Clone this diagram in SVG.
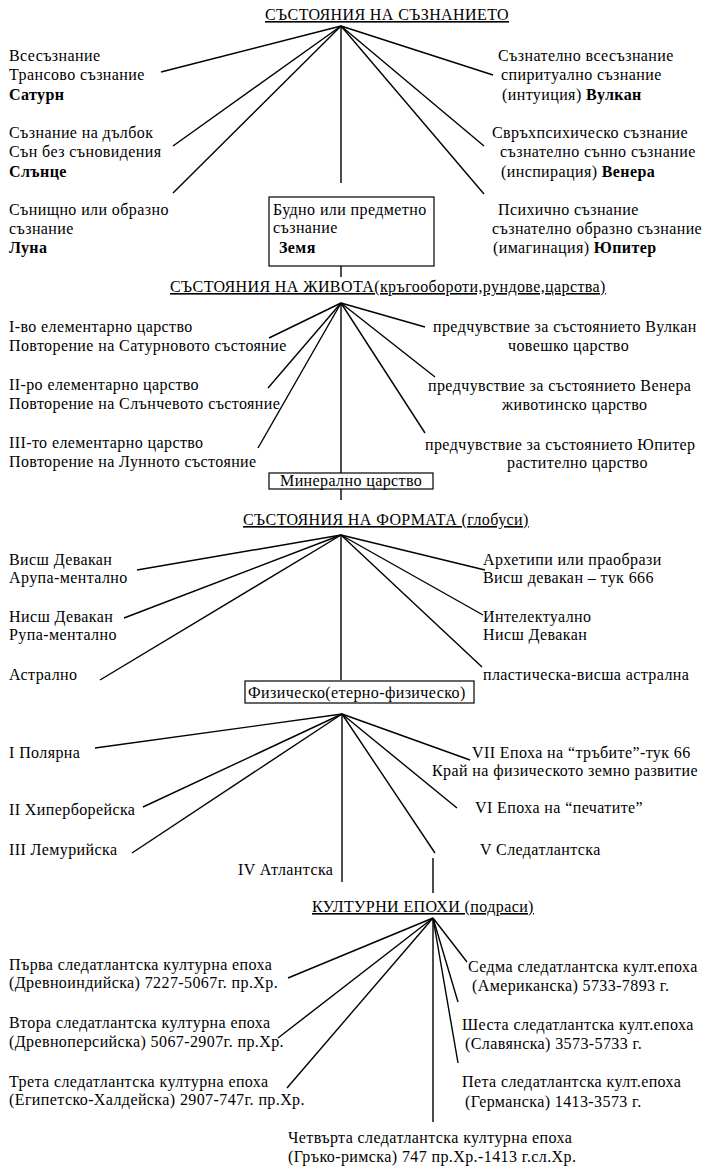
<svg xmlns="http://www.w3.org/2000/svg" width="705" height="1168" viewBox="0 0 705 1168">
<style>
text{font-family:"Liberation Serif","Times New Roman",serif;font-size:16px;letter-spacing:0.4px;fill:#000}
.t{text-decoration:underline}
.b{font-weight:bold}
.c line{stroke:#000;stroke-width:1.4}
.box{fill:#fff;stroke:#000;stroke-width:1.2}
</style>
<rect width="705" height="1168" fill="#fff"/>
<g class="c" id="connectors">
<line x1="341" y1="26" x2="161" y2="72"/>
<line x1="341" y1="26" x2="173" y2="146"/>
<line x1="341" y1="26" x2="173" y2="193"/>
<line x1="341" y1="26" x2="341" y2="183"/>
<line x1="341" y1="26" x2="493" y2="75"/>
<line x1="341" y1="26" x2="484" y2="146"/>
<line x1="341" y1="26" x2="484" y2="194"/>
<line x1="341" y1="266" x2="341" y2="277"/>
<line x1="341" y1="303" x2="269" y2="338"/>
<line x1="341" y1="303" x2="268" y2="388"/>
<line x1="341" y1="303" x2="258" y2="448"/>
<line x1="341" y1="303" x2="341" y2="473"/>
<line x1="341" y1="303" x2="425" y2="327"/>
<line x1="341" y1="303" x2="435" y2="377"/>
<line x1="341" y1="303" x2="425" y2="433"/>
<line x1="341" y1="489" x2="341" y2="500"/>
<line x1="341" y1="535" x2="137" y2="570"/>
<line x1="341" y1="535" x2="124" y2="618"/>
<line x1="341" y1="535" x2="100" y2="680"/>
<line x1="341" y1="535" x2="341" y2="680"/>
<line x1="341" y1="535" x2="485" y2="570"/>
<line x1="341" y1="535" x2="483" y2="615"/>
<line x1="341" y1="535" x2="482" y2="667"/>
<line x1="342" y1="714" x2="95" y2="748"/>
<line x1="342" y1="714" x2="143" y2="807"/>
<line x1="342" y1="714" x2="132" y2="853"/>
<line x1="342" y1="714" x2="342" y2="882"/>
<line x1="342" y1="714" x2="470" y2="760"/>
<line x1="342" y1="714" x2="457" y2="808"/>
<line x1="342" y1="714" x2="435" y2="853"/>
<line x1="433" y1="858" x2="433" y2="893"/>
<line x1="433" y1="918" x2="288" y2="978"/>
<line x1="433" y1="918" x2="278" y2="1038"/>
<line x1="433" y1="918" x2="287" y2="1088"/>
<line x1="433" y1="918" x2="433" y2="1122"/>
<line x1="433" y1="918" x2="467" y2="962"/>
<line x1="433" y1="918" x2="458" y2="1002"/>
<line x1="433" y1="918" x2="458" y2="1063"/>
</g>
<g id="title1"><text x="265" y="20" class="t">СЪСТОЯНИЯ НА СЪЗНАНИЕТО</text></g>
<g id="saturn"><text x="9" y="61">Всесъзнание</text><text x="9" y="80">Трансово съзнание</text><text x="9" y="100" class="b">Сатурн</text></g>
<g id="sun"><text x="9" y="138">Съзнание на дълбок</text><text x="9" y="157">Сън без сънови­дения</text><text x="9" y="177" class="b">Слънце</text></g>
<g id="moon"><text x="9" y="215">Сънищно или образно</text><text x="9" y="234">съзнание</text><text x="9" y="253" class="b">Луна</text></g>
<g id="earth"><rect class="box" x="269" y="197" width="165" height="69"/><text x="273" y="215">Будно или предметно</text><text x="273" y="233">съзнание</text><text x="279" y="253" class="b">Земя</text></g>
<g id="vulcan"><text x="498" y="61">Съзнателно всесъзнание</text><text x="501" y="80">спиритуално съзнание</text><text x="502" y="100">(интуиция) <tspan class="b">Вулкан</tspan></text></g>
<g id="venus"><text x="492" y="138">Свръхпсихическо съзнание</text><text x="500" y="157">съзнателно сънно съзнание</text><text x="501" y="177">(инспирация) <tspan class="b">Венера</tspan></text></g>
<g id="jupiter"><text x="498" y="215">Психично съзнание</text><text x="492" y="234">съзнателно образно съзнание</text><text x="493" y="253">(имагинация) <tspan class="b">Юпитер</tspan></text></g>
<g id="title2"><text x="170" y="292" class="t">СЪСТОЯНИЯ НА ЖИВОТА(кръгообороти,рундове,царства)</text></g>
<g id="k1"><text x="9" y="332">I-во елементарно царство</text><text x="9" y="351">Повторение на Сатурновото състояние</text></g>
<g id="k2"><text x="9" y="390">II-ро елементарно царство</text><text x="9" y="409">Повторение на Слънчевото състояние</text></g>
<g id="k3"><text x="9" y="448">III-то елементарно царство</text><text x="9" y="467">Повторение на Лунното състояние</text></g>
<g id="human"><text x="433" y="332">предчувствие за състоянието Вулкан</text><text x="508" y="351">човешко царство</text></g>
<g id="animal"><text x="428" y="391">предчувствие за състоянието Венера</text><text x="502" y="410">животинско царство</text></g>
<g id="plant"><text x="425" y="450">предчувствие за състоянието Юпитер</text><text x="507" y="468">растително царство</text></g>
<g id="mineral"><rect class="box" x="269" y="473" width="164" height="16"/><text x="280" y="486">Минерално царство</text></g>
<g id="title3"><text x="243" y="525" class="t">СЪСТОЯНИЯ НА ФОРМАТА (глобуси)</text></g>
<g id="arupa"><text x="9" y="565">Висш Девакан</text><text x="9" y="583">Арупа-ментално</text></g>
<g id="rupa"><text x="9" y="622">Нисш Девакан</text><text x="9" y="640">Рупа-ментално</text></g>
<g id="astral"><text x="9" y="680">Астрално</text></g>
<g id="archetypes"><text x="483" y="565">Архетипи или праобрази</text><text x="483" y="583">Висш девакан – тук 666</text></g>
<g id="intellect"><text x="483" y="622">Интелектуално</text><text x="483" y="640">Нисш Девакан</text></g>
<g id="plastic"><text x="483" y="680">пластическа-висша астрална</text></g>
<g id="physical"><rect class="box" x="245" y="681" width="229" height="22"/><text x="248" y="698">Физическо(етерно-физическо)</text></g>
<g id="polar"><text x="9" y="758">I Полярна</text></g>
<g id="hyper"><text x="9" y="815">II Хиперборейска</text></g>
<g id="lemur"><text x="9" y="855">III Лемурийска</text></g>
<g id="atlant"><text x="238" y="875">IV Атлантска</text></g>
<g id="e7"><text x="472" y="758">VII Епоха на “тръбите”-тук 66</text><text x="432" y="776">Край на физическото земно развитие</text></g>
<g id="e6"><text x="475" y="813">VI Епоха на “печатите”</text></g>
<g id="e5"><text x="480" y="855">V Следатлантска</text></g>
<g id="title5"><text x="312" y="912" class="t">КУЛТУРНИ ЕПОХИ (подраси)</text></g>
<g id="c1"><text x="9" y="970">Първа следатлантска  културна епоха</text><text x="9" y="988">(Древноиндийска) 7227-5067г. пр.Хр.</text></g>
<g id="c2"><text x="9" y="1028">Втора следатлантска  културна епоха</text><text x="9" y="1047">(Древноперсийска) 5067-2907г. пр.Хр.</text></g>
<g id="c3"><text x="9" y="1087">Трета следатлантска  културна епоха</text><text x="9" y="1105">(Египетско-Халдейска) 2907-747г. пр.Хр.</text></g>
<g id="c4"><text x="288" y="1143">Четвърта следатлантска  културна епоха</text><text x="288" y="1162">(Гръко-римска) 747 пр.Хр.-1413 г.сл.Хр.</text></g>
<g id="c7"><text x="468" y="972">Седма следатлантска култ.епоха</text><text x="472" y="991">(Американска) 5733-7893 г.</text></g>
<g id="c6"><text x="462" y="1030">Шеста следатлантска култ.епоха</text><text x="465" y="1049">(Славянска) 3573-5733 г.</text></g>
<g id="c5"><text x="462" y="1087">Пета следатлантска култ.епоха</text><text x="465" y="1107">(Германска) 1413-3573 г.</text></g>
</svg>
